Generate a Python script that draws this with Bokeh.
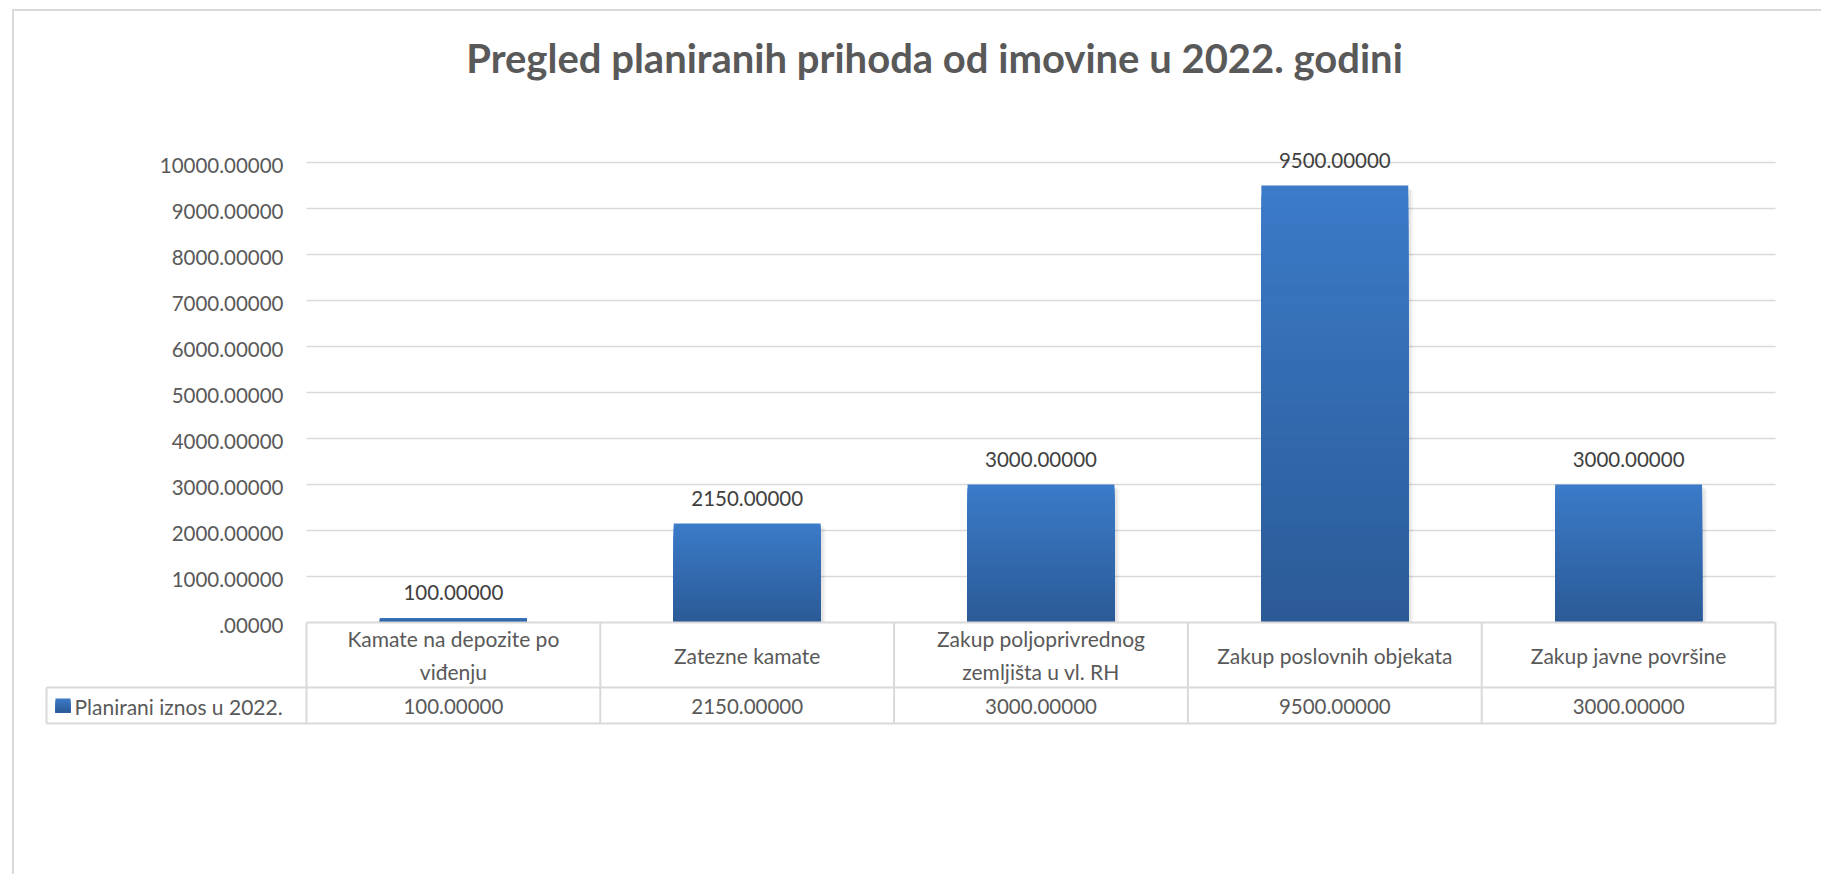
from bokeh.plotting import figure
from bokeh.models import ColumnDataSource, Range1d
from bokeh.embed import file_html
from bokeh.resources import INLINE
from bokeh.core.properties import value

# ---------------- data ----------------
title_text = "Pregled planiranih prihoda od imovine u 2022. godini"
categories = [
    "Kamate na depozite po\nviđenju",
    "Zatezne kamate",
    "Zakup poljoprivrednog\nzemljišta u vl. RH",
    "Zakup poslovnih objekata",
    "Zakup javne površine",
]
series_name = "Planirani iznos u 2022."
values = [100, 2150, 3000, 9500, 3000]
value_labels = ["100.00000", "2150.00000", "3000.00000", "9500.00000", "3000.00000"]
y_ticks = [0, 1000, 2000, 3000, 4000, 5000, 6000, 7000, 8000, 9000, 10000]
y_tick_labels = [".00000", "1000.00000", "2000.00000", "3000.00000", "4000.00000",
                 "5000.00000", "6000.00000", "7000.00000", "8000.00000",
                 "9000.00000", "10000.00000"]

# ---------------- layout (screenshot pixels) ----------------
W, H = 1821, 874
OFF = 0
PLOT_L, PLOT_R = 306, 1775
ZERO_Y = 622
PX_PER_1000 = 46
COLW = (PLOT_R - PLOT_L) / len(categories)
LEG_L = 46
ROW1_B = 687
ROW2_B = 723
FONT = "Lato"
GRID = "#d9d9d9"
TXT = "#595959"
TOP_RGB = (59, 123, 201)
BOT_RGB = (43, 90, 150)
NUM_SIZE = "20.5px"
TXT_SIZE = "21px"


def X(px):
    return (px - PLOT_L) / COLW


def Y(py):
    return (ZERO_Y - py) * 1000.0 / PX_PER_1000


def DX(px):
    return px / COLW


def DY(px):
    return px * 1000.0 / PX_PER_1000


def lerp_hex(t):
    r = [round(BOT_RGB[j] + (TOP_RGB[j] - BOT_RGB[j]) * t) for j in range(3)]
    return "#%02x%02x%02x" % tuple(r)


p = figure(width=W, height=H,
           x_range=Range1d(X(OFF), X(OFF + W)),
           y_range=Range1d(Y(OFF + H), Y(OFF)),
           output_backend="svg", toolbar_location=None,
           x_axis_location=None, y_axis_location=None,
           min_border=0, outline_line_color=None,
           background_fill_color="white", border_fill_color="white")
p.grid.visible = False

# chart border (top + left)
p.segment(x0=[X(12), X(12.5)], y0=[Y(9.5), Y(9)], x1=[X(OFF + W), X(12.5)], y1=[Y(9.5), Y(OFF + H)],
          line_color=GRID, line_width=2)

# gridlines
gt = y_ticks[1:]
p.segment(x0=[X(PLOT_L)] * len(gt), y0=gt, x1=[X(PLOT_R)] * len(gt), y1=gt,
          line_color=GRID, line_width=1.6)

# y tick labels
p.text(x=[X(283)] * len(y_ticks), y=y_ticks, text=y_tick_labels,
       text_align="right", text_baseline="middle", y_offset=3,
       text_font=value(FONT), text_font_size=NUM_SIZE, text_color=TXT)

# bar shadows
xs = [i + 0.5 for i in range(len(categories))]
for off, a in [(5, 0.04), (3, 0.06)]:
    p.vbar(x=[x + DX(off) for x in xs], top=[v - DY(off) for v in values], bottom=0,
           width=0.5, fill_color="black", fill_alpha=a, line_color=None)

# bars with vertical gradient
N = 40
gx, gtop, gcol = [], [], []
for k in reversed(range(N)):
    c = lerp_hex((k + 0.5) / N)
    for i, v in enumerate(values):
        gx.append(xs[i])
        gtop.append(v * (k + 1) / N)
        gcol.append(c)
src = ColumnDataSource(dict(x=gx, top=gtop, color=gcol))
p.vbar(x="x", top="top", bottom=0, width=0.5, fill_color="color", line_color=None, source=src)

# bar value labels
p.text(x=xs, y=values, text=value_labels, text_align="center", text_baseline="middle",
       y_offset=-25, text_font=value(FONT), text_font_size=NUM_SIZE, text_color="#404040")

# data table lines
hx0 = [X(PLOT_L), X(LEG_L), X(LEG_L)]
hx1 = [X(PLOT_R)] * 3
hy = [Y(ZERO_Y), Y(ROW1_B), Y(ROW2_B)]
p.segment(x0=hx0, y0=hy, x1=hx1, y1=hy, line_color=GRID, line_width=2)
vx = [float(k) for k in range(len(categories) + 1)]
p.segment(x0=vx, y0=[Y(ZERO_Y)] * len(vx), x1=vx, y1=[Y(ROW2_B)] * len(vx),
          line_color=GRID, line_width=2)
p.segment(x0=[X(LEG_L)], y0=[Y(ROW1_B)], x1=[X(LEG_L)], y1=[Y(ROW2_B)],
          line_color=GRID, line_width=2)

# category labels
p.text(x=xs, y=[Y((ZERO_Y + ROW1_B) / 2)] * len(xs), text=categories,
       text_align="center", text_baseline="middle", text_line_height=1.33,
       text_font=value(FONT), text_font_size=TXT_SIZE, text_color=TXT)

# value row
p.text(x=xs, y=[Y((ROW1_B + ROW2_B) / 2)] * len(xs), text=value_labels,
       text_align="center", text_baseline="middle", y_offset=1,
       text_font=value(FONT), text_font_size=NUM_SIZE, text_color=TXT)

# legend key + series name
NK = 8
for k in reversed(range(NK)):
    p.quad(left=[X(55)], right=[X(70)], bottom=[Y(712)],
           top=[Y(712) + DY(14) * (k + 1) / NK],
           fill_color=lerp_hex((k + 0.5) / NK), line_color=None)
p.text(x=[X(74)], y=[Y((ROW1_B + ROW2_B) / 2)], text=[series_name],
       text_align="left", text_baseline="middle", y_offset=1,
       text_font=value(FONT), text_font_size=TXT_SIZE, text_color=TXT)

# title
p.text(x=[X(934)], y=[Y(57)], text=[title_text], text_align="center", text_baseline="middle",
       text_font=value(FONT), text_font_style="bold", text_font_size="40px", text_color=TXT)

open("out.html", "w").write(file_html(p, INLINE))
